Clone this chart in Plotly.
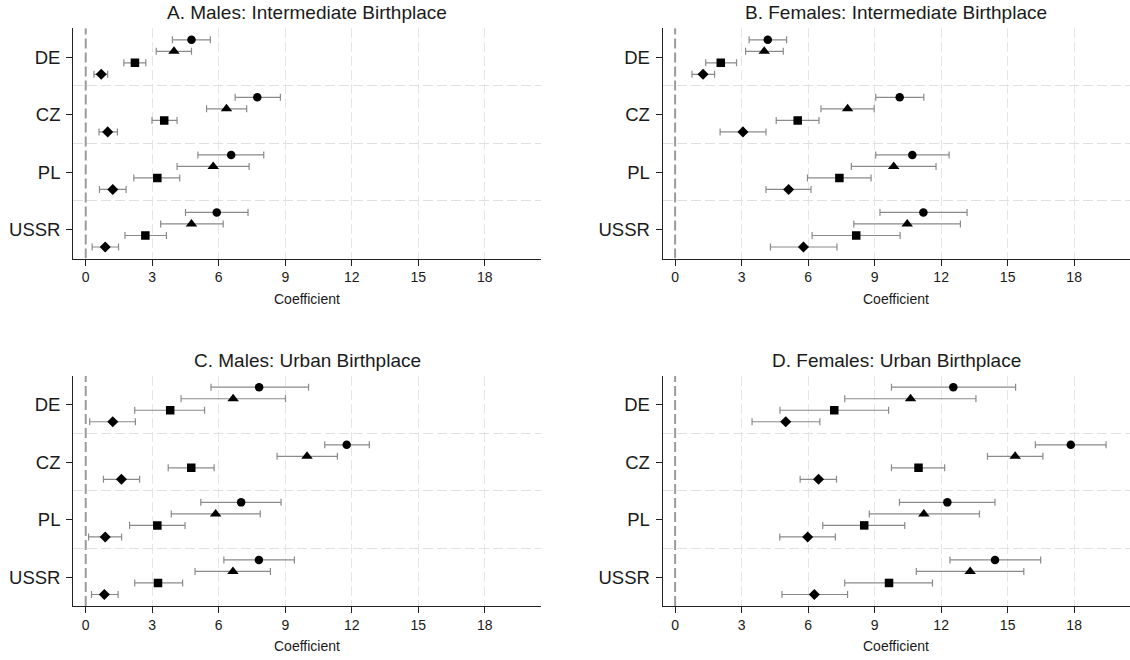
import plotly.graph_objects as go

countries = ["DE", "CZ", "PL", "USSR"]
x_ticks = [0, 3, 6, 9, 12, 15, 18]
x_grid = [3, 6, 9, 12, 15, 18]
titles = ["A. Males: Intermediate Birthplace", "B. Females: Intermediate Birthplace",
          "C. Males: Urban Birthplace", "D. Females: Urban Birthplace"]
series_names = ["Spec 1", "Spec 2", "Spec 3", "Spec 4"]
series_symbols = ["circle", "triangle-up", "square", "diamond"]
series_sizes = [8.5, 10, 8.5, 8.5]
series_offsets = [-0.3, -0.1, 0.1, 0.3]

# rows: circle, triangle, square, diamond ; cols: DE, CZ, PL, USSR
A_est = [[4.77, 7.74, 6.56, 5.91], [3.98, 6.35, 5.75, 4.77], [2.22, 3.54, 3.23, 2.69], [0.70, 0.99, 1.22, 0.88]]
A_lo = [[3.91, 6.74, 5.06, 4.50], [3.18, 5.45, 4.12, 3.38], [1.72, 2.99, 2.17, 1.77], [0.37, 0.60, 0.62, 0.29]]
A_hi = [[5.62, 8.78, 8.03, 7.32], [4.77, 7.26, 7.37, 6.20], [2.71, 4.12, 4.24, 3.64], [0.99, 1.43, 1.82, 1.48]]

B_est = [[4.18, 10.13, 10.70, 11.20], [4.02, 7.78, 9.86, 10.47], [2.06, 5.53, 7.41, 8.17], [1.26, 3.06, 5.12, 5.79]]
B_lo = [[3.34, 9.05, 9.05, 9.24], [3.18, 6.58, 7.95, 8.06], [1.38, 4.56, 5.97, 6.18], [0.76, 2.03, 4.10, 4.30]]
B_hi = [[5.03, 11.22, 12.36, 13.17], [4.88, 8.98, 11.77, 12.87], [2.77, 6.49, 8.84, 10.15], [1.78, 4.10, 6.13, 7.30]]

C_est = [[7.82, 11.77, 7.01, 7.81], [6.65, 9.98, 5.86, 6.64], [3.81, 4.76, 3.23, 3.26], [1.22, 1.61, 0.88, 0.84]]
C_lo = [[5.65, 10.78, 5.19, 6.23], [4.30, 8.63, 3.86, 4.93], [2.21, 3.72, 1.98, 2.21], [0.18, 0.80, 0.13, 0.26]]
C_hi = [[10.05, 12.79, 8.81, 9.41], [9.01, 11.35, 7.87, 8.33], [5.36, 5.79, 4.48, 4.37], [2.24, 2.43, 1.62, 1.46]]

D_est = [[12.55, 17.85, 12.28, 14.43], [10.62, 15.34, 11.22, 13.31], [7.18, 10.98, 8.53, 9.65], [4.99, 6.47, 5.98, 6.28]]
D_lo = [[9.76, 16.25, 10.12, 12.40], [7.65, 14.09, 8.76, 10.88], [4.73, 9.76, 6.66, 7.65], [3.47, 5.64, 4.72, 4.82]]
D_hi = [[15.36, 19.44, 14.43, 16.49], [13.57, 16.59, 13.73, 15.73], [9.63, 12.16, 10.36, 11.61], [6.53, 7.28, 7.23, 7.78]]

panels = [(A_est, A_lo, A_hi), (B_est, B_lo, B_hi), (C_est, C_lo, C_hi), (D_est, D_lo, D_hi)]

W, H = 1130, 660
# pixel layout of each plot area: (left, right, top, bottom)
boxes = [(73.3, 540.7, 28.3, 258.5), (662.7, 1130.0, 28.3, 258.5),
         (73.3, 540.7, 375.7, 606.0), (662.7, 1130.0, 375.7, 606.0)]
Y_RANGE = [4.5, 0.5]

FONT = "Liberation Sans, Arial, sans-serif"
TXT = "#1a1a1a"
fig = go.Figure()
layout = dict(width=W, height=H, margin=dict(l=0, r=0, t=0, b=0),
              paper_bgcolor="white", plot_bgcolor="white", showlegend=False,
              font=dict(family=FONT, color=TXT))
annotations = []

for p, (est, lo, hi) in enumerate(panels):
    k = "" if p == 0 else str(p + 1)
    xa, ya = "x" + k, "y" + k
    # dashed reference line at zero
    fig.add_trace(go.Scatter(x=[0, 0], y=Y_RANGE, xaxis=xa, yaxis=ya, mode="lines",
                             line=dict(color="#9a9a9a", width=2, dash="10px,4px"),
                             hoverinfo="skip", cliponaxis=True))
    for s in range(4):
        ys = [c + 1 + series_offsets[s] for c in range(4)]
        fig.add_trace(go.Scatter(
            x=est[s], y=ys, xaxis=xa, yaxis=ya, mode="markers", name=series_names[s],
            marker=dict(symbol=series_symbols[s], size=series_sizes[s], color="black", line=dict(width=0)),
            error_x=dict(type="data", symmetric=False,
                         array=[h - e for h, e in zip(hi[s], est[s])],
                         arrayminus=[e - l for e, l in zip(est[s], lo[s])],
                         color="#8a8a8a", thickness=1.2, width=3.5),
            hoverinfo="skip"))
    L, R, T, B = boxes[p]
    layout["xaxis" + k] = dict(
        domain=[L / W, R / W], anchor=ya, range=[-0.56, 20.52],
        tickvals=x_ticks, ticktext=[str(v) for v in x_ticks],
        ticks="outside", ticklen=6, tickwidth=1.2, tickcolor="#222",
        showline=True, linecolor="#222", linewidth=1.3,
        showgrid=False, zeroline=False,
        minor=dict(tickvals=x_grid, showgrid=True, gridcolor="#e6e6e6",
                   gridwidth=1.3, griddash="10px,4px", ticks=""),
        tickfont=dict(size=14, family=FONT, color=TXT), fixedrange=True)
    layout["yaxis" + k] = dict(
        domain=[1 - B / H, 1 - T / H], anchor=xa, range=Y_RANGE,
        tickvals=[1, 2, 3, 4], ticktext=countries,
        ticks="outside", ticklen=6, tickwidth=1.2, tickcolor="#222",
        showline=True, linecolor="#222", linewidth=1.3, ticklabelstandoff=2,
        showgrid=False, zeroline=False,
        minor=dict(tickvals=[1.5, 2.5, 3.5], showgrid=True, gridcolor="#e0e0e0",
                   gridwidth=1.3, griddash="10px,4px", ticks=""),
        tickfont=dict(size=18.5, family=FONT, color=TXT), fixedrange=True)
    cx = (L + R) / 2 / W
    annotations.append(dict(text=titles[p], xref="paper", yref="paper", x=cx, y=1 - (T - 15.6) / H,
                            xanchor="center", yanchor="middle", showarrow=False,
                            font=dict(size=19, family=FONT, color=TXT)))
    annotations.append(dict(text="Coefficient", xref="paper", yref="paper", x=cx, y=1 - (B + 40) / H,
                            xanchor="center", yanchor="middle", showarrow=False,
                            font=dict(size=14, family=FONT, color=TXT)))

layout["annotations"] = annotations
fig.update_layout(**layout)
fig.write_html("out.html", config={"displayModeBar": False},
               post_script="document.body.style.margin='0';document.body.style.overflow='hidden';")
